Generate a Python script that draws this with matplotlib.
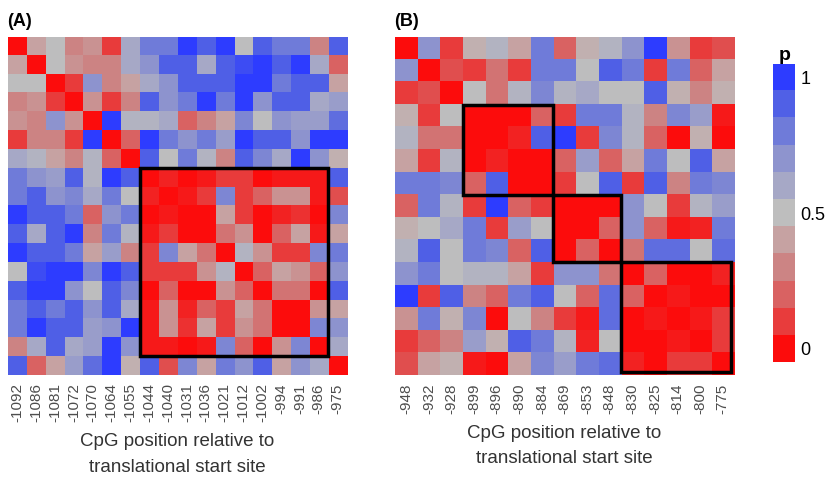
import numpy as np
import matplotlib
matplotlib.use("Agg")
import matplotlib.pyplot as plt
from matplotlib.colors import LinearSegmentedColormap, ListedColormap
from matplotlib.patches import Rectangle

plt.rcParams['font.family'] = ['Liberation Sans', 'DejaVu Sans']

# CpG positions (tick labels)
pos_a = ['-1092', '-1086', '-1081', '-1072', '-1070', '-1064', '-1055', '-1044', '-1040',
         '-1031', '-1036', '-1021', '-1012', '-1002', '-994', '-991', '-986', '-975']
pos_b = ['-948', '-932', '-928', '-899', '-896', '-890', '-884', '-869', '-853',
         '-848', '-830', '-825', '-814', '-800', '-775']

# p values
p_a = [
    [0, .4, .5, .3, .35, .1, .6, .8, .8, 1, .9, 1, .5, .9, .8, .8, .3, .9],
    [.4, 0, .5, .35, .3, .3, .6, .7, .9, .9, .6, .9, .95, 1, .9, 1, .6, .2],
    [.5, .5, 0, .1, .7, .3, .4, .6, .7, .9, .9, .9, 1, 1, .8, .9, .9, .4],
    [.3, .35, .1, 0, .35, .1, .3, .9, .7, .8, 1, .8, 1, .7, .9, .9, .6, .65],
    [.35, .3, .7, .35, 0, 1, .55, .55, .6, .2, .3, .4, .75, .5, .7, .65, .65, .85],
    [.1, .3, .3, .1, 1, 0, .2, 1, .8, .7, .8, .65, 1, .9, .9, .7, 1, 1],
    [.6, .55, .4, .3, .55, .2, 0, .9, .5, .8, .55, .3, .9, .75, .6, 1, .7, .45],
    [.8, .7, .65, .9, .55, 1, .9, 0, .05, 0, .03, .1, .1, 0, .03, .03, .03, .9],
    [.8, .9, .7, .75, .6, .8, .5, .05, 0, .03, .1, .75, .1, .2, .35, .35, .03, .15],
    [1, .9, .9, .8, .2, .7, .8, 0, .03, 0, 0, .4, .1, 0, .05, .08, 0, .75],
    [.9, .6, .9, 1, .3, .8, .55, .03, .1, 0, 0, .25, .35, 0, .2, .4, .03, .4],
    [1, .9, .9, .8, .4, .65, .3, .1, .75, .4, .25, 0, .55, .35, .1, .1, .75, .8],
    [.5, .95, 1, 1, .75, 1, .9, .1, .1, .1, .35, .55, 0, .2, .4, .35, .2, .7],
    [.9, 1, 1, .7, .5, .9, .75, 0, .2, 0, 0, .35, .2, 0, .25, .25, 0, .9],
    [.8, .9, .8, .9, .7, .9, .6, .03, .35, .05, .2, .1, .4, .25, 0, 0, .35, .4],
    [.8, 1, .9, .9, .65, .7, 1, .03, .35, .08, .4, .1, .35, .25, 0, 0, .75, .7],
    [.3, .6, .9, .6, .65, 1, .7, .03, .03, 0, .03, .75, .2, 0, .35, .75, 0, .6],
    [.9, .2, .4, .65, .85, 1, .45, .9, .15, .75, .4, .8, .7, .9, .4, .7, .6, 0],
]

p_b = [
    [0, .7, .1, .45, .55, .4, .8, .2, .45, .55, .7, 1, .35, .1, .15],
    [.7, 0, .15, .1, .25, .1, .8, .8, .5, .9, .8, .1, .8, .2, .4],
    [.1, .15, 0, .5, .25, .55, .75, .55, .6, .5, .5, .9, .45, .3, .45],
    [.45, .1, .5, 0, 0, 0, .2, .1, .8, .8, .55, .3, .75, .65, .03],
    [.55, .25, .25, 0, 0, .05, .9, 1, .1, .75, .55, .2, 0, .45, 0],
    [.4, .1, .55, 0, .05, 0, 0, .2, .65, .2, .4, .8, .5, .9, .4],
    [.8, .8, .75, .2, .9, 0, 0, .1, .5, .9, .1, .9, .3, .8, .75],
    [.2, .8, .55, .1, 1, .2, .1, 0, 0, 0, .7, .5, .1, .55, .65],
    [.45, .5, .6, .8, .1, .65, .5, 0, 0, .2, .7, .2, .03, .05, .8],
    [.55, .9, .5, .8, .75, .2, .9, 0, .2, 0, .25, .85, .85, .5, .85],
    [.7, .8, .5, .55, .55, .4, .1, .7, .7, .25, 0, .2, 0, 0, .05],
    [1, .1, .9, .3, .2, .8, .9, .5, .2, .85, .2, 0, .03, 0, 0],
    [.35, .8, .45, .75, 0, .5, .3, .1, .03, .85, 0, .03, 0, .03, .1],
    [.1, .2, .3, .65, .45, .9, .8, .55, .05, .5, 0, 0, .03, 0, .1],
    [.15, .4, .45, .03, 0, .4, .75, .65, .8, .85, .05, 0, .1, .1, 0],
]

# highlighted blocks: (first index, last index)
blocks_a = [(7, 16)]
blocks_b = [(3, 6), (7, 9), (10, 14)]

colors = ['#FC0C0C', '#E83C3C', '#D96262', '#CC8484', '#C6A2A2', '#BEBEBE',
          '#A6A8C6', '#8E94CE', '#6F7BD9', '#5060E6', '#2D3CFF']
cmap = LinearSegmentedColormap.from_list('rgb', colors)

fig = plt.figure(figsize=(8.33, 4.83), dpi=100)

axA = fig.add_axes([0.0096, 0.2236, 0.407, 0.700])
axB = fig.add_axes([0.4742, 0.2236, 0.407, 0.700])

for ax, mat, labels, blocks, tag in [(axA, p_a, pos_a, blocks_a, '(A)'),
                                     (axB, p_b, pos_b, blocks_b, '(B)')]:
    m = np.array(mat)
    n = len(labels)
    ax.imshow(m, cmap=cmap, vmin=0, vmax=1, aspect='auto', interpolation='nearest')
    for a, b in blocks:
        w = b - a + 1
        if b == n - 1:
            w -= 0.12   # last box sits just inside the panel edge
        ax.add_patch(Rectangle((a - 0.5, a - 0.5), w, w, fill=False,
                               edgecolor='black', linewidth=2.5, clip_on=False, zorder=5))
    ax.set_xticks(range(n))
    ax.set_xticklabels(labels, rotation=90, fontsize=11, color='#4D4D4D')
    ax.set_yticks([])
    ax.tick_params(axis='x', length=0, pad=6)
    for s in ax.spines.values():
        s.set_visible(False)
    ax.set_xlabel('CpG position relative to\ntranslational start site', fontsize=13.5,
                  color='#333333', linespacing=1.65, labelpad=8)
    ax.set_title(tag, loc='left', fontsize=13, fontweight='bold', x=-0.002, pad=8)

# legend keys
axL = fig.add_axes([0.928, 0.2505, 0.0264, 0.617])
axL.imshow(np.arange(11).reshape(-1, 1), cmap=ListedColormap(colors),
           vmin=-0.5, vmax=10.5, origin='lower', aspect='auto')
axL.set_xticks([])
axL.yaxis.tick_right()
axL.set_yticks([0, 5, 10])
axL.set_yticklabels(['0', '0.5', '1'], fontsize=13)
axL.tick_params(axis='y', length=0, pad=4)
for s in axL.spines.values():
    s.set_visible(False)
axL.set_title('p', fontsize=14, fontweight='bold', loc='left', x=0.25, pad=2)

fig.savefig('out.png', dpi=100)
